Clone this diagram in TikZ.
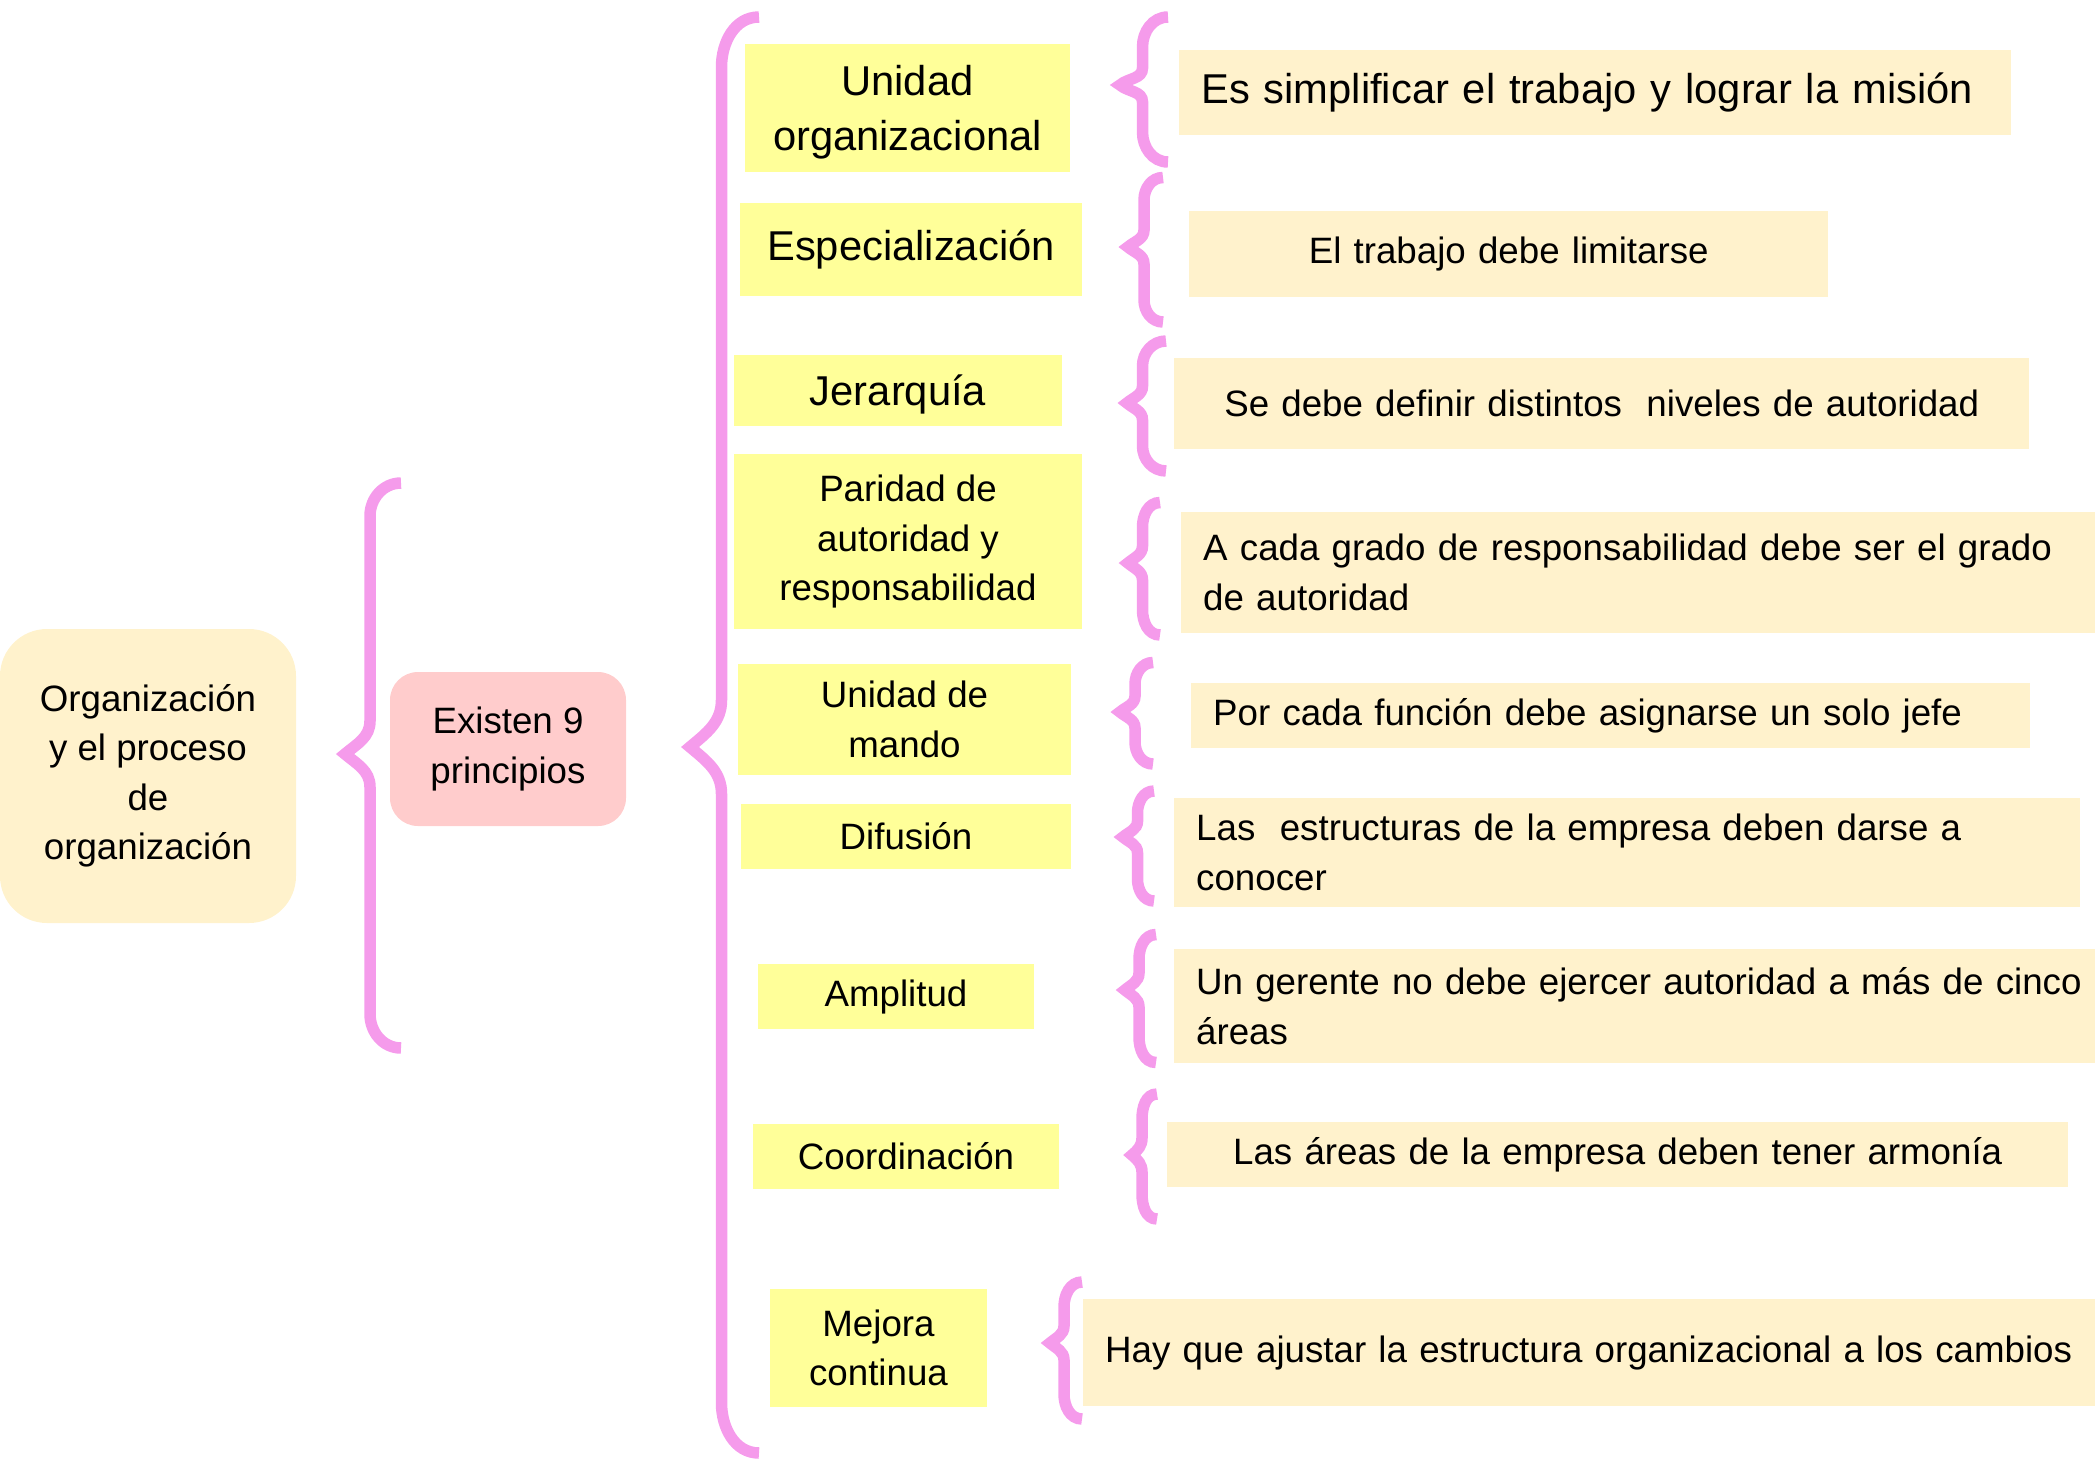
\documentclass[tikz,border=0pt]{standalone}
\usepackage{fontspec}
\setmainfont{Liberation Sans}

\definecolor{bracepink}{RGB}{245,155,235}
\definecolor{yellowfill}{RGB}{255,255,153}
\definecolor{creamfill}{RGB}{255,242,204}
\definecolor{rosefill}{RGB}{255,204,204}

\tikzset{
  curly/.style={draw=bracepink, line width=11.5pt},
  big/.style={font=\fontsize{41.7}{55.5}\selectfont},
  med/.style={font=\fontsize{36.7}{49.5}\selectfont},
  rootbox/.style={fill=creamfill, rounded corners=47pt, med, align=center, inner sep=0pt},
  countbox/.style={fill=rosefill, rounded corners=28pt, med, align=center, inner sep=0pt},
  principle/.style={fill=yellowfill, med, align=center, inner sep=0pt},
  note/.style={fill=creamfill, med, anchor=west, inner xsep=22pt, inner ysep=0pt},
}

\begin{document}
\begin{tikzpicture}[x=1pt, y=-1pt]
  \useasboundingbox (0,0) rectangle (2095,1460);

  \node [rootbox, minimum width=296pt, minimum height=294pt] (organizacion) at (148,776)
    {Organización\\y el proceso\\de\\organización};

  \node [countbox, minimum width=236pt, minimum height=154pt] (principios) at (508,749)
    {Existen 9\\principios};

  % left brace
  \draw [curly] (401,483) to [out=180,in=90] (370,516) -- (370,721)
    to [out=-90,in=40] (345,754) to [out=-40,in=90] (370,787) -- (370,1014)
    to [out=-90,in=180] (401,1048);

  % big brace
  \draw [curly] (759,17) to [out=180,in=90] (721.5,67) -- (721.5,700)
    to [out=-90,in=40] (690,747) to [out=-40,in=90] (721.5,794) -- (721.5,1403)
    to [out=-90,in=180] (759,1453);

  \node [principle, big, text depth=0pt, minimum width=325pt, minimum height=128pt] (unidad) at (907.5,108) {Unidad\\organizacional};
  \node [principle, big, minimum width=342pt, minimum height=93pt] (especializacion) at (911,249.5) {Especialización};
  \node [principle, big, text depth=0pt, minimum width=328pt, minimum height=71pt] (jerarquia) at (898,390.5) {Jerarquía};
  \node [principle, minimum width=348pt, minimum height=175pt] (paridad) at (908,541.5) {Paridad de\\autoridad y\\responsabilidad};
  \node [principle, minimum width=333pt, minimum height=111pt] (mando) at (904.5,719.5) {Unidad de\\mando};
  \node [principle, minimum width=330pt, minimum height=65pt] (difusion) at (906,836.5) {Difusión};
  \node [principle, minimum width=276pt, minimum height=65pt] (amplitud) at (896,996.5) {Amplitud};
  \node [principle, minimum width=306pt, minimum height=65pt] (coordinacion) at (906,1156.5) {Coordinación};
  \node [principle, minimum width=217pt, minimum height=118pt] (mejora) at (878.5,1348) {Mejora\\continua};

  % small braces
  \draw [curly] (1168,17) to [out=180,in=90] (1142.5,47) -- (1142.5,68)
    to [out=-90,in=40] (1120,85) to [out=-40,in=90] (1142.5,102) -- (1142.5,132)
    to [out=-90,in=180] (1168,162);
  \draw [curly] (1163,177.5) to [out=180,in=90] (1144,200) -- (1144,230)
    to [out=-90,in=40] (1128,247) to [out=-40,in=90] (1144,264) -- (1144,300)
    to [out=-90,in=180] (1163,322);
  \draw [curly] (1166,341) to [out=180,in=90] (1142.5,366) -- (1142.5,386)
    to [out=-90,in=40] (1127,403) to [out=-40,in=90] (1142.5,420) -- (1142.5,446)
    to [out=-90,in=180] (1166,471);
  \draw [curly] (1160,502.5) to [out=180,in=90] (1142.5,527) -- (1142.5,546)
    to [out=-90,in=40] (1128,563) to [out=-40,in=90] (1142.5,580) -- (1142.5,610)
    to [out=-90,in=180] (1160,635);
  \draw [curly] (1153,662.5) to [out=180,in=90] (1135,684) -- (1135,696)
    to [out=-90,in=40] (1120,712) to [out=-40,in=90] (1135,728) -- (1135,742)
    to [out=-90,in=180] (1153,764);
  \draw [curly] (1154,791) to [out=180,in=90] (1137.5,813) -- (1137.5,821)
    to [out=-90,in=40] (1123,837) to [out=-40,in=90] (1137.5,853) -- (1137.5,879)
    to [out=-90,in=180] (1154,901);
  \draw [curly] (1156,934.5) to [out=180,in=90] (1139,959) -- (1139,973)
    to [out=-90,in=40] (1125,990) to [out=-40,in=90] (1139,1007) -- (1139,1037)
    to [out=-90,in=180] (1156,1062.5);
  \draw [curly] (1157,1094) to [out=180,in=90] (1142,1119) -- (1142,1138)
    to [out=-90,in=40] (1132,1155) to [out=-40,in=90] (1142,1172) -- (1142,1194)
    to [out=-90,in=180] (1157,1219);
  \draw [curly] (1082,1282) to [out=180,in=90] (1064,1307) -- (1064,1326)
    to [out=-90,in=40] (1050,1343) to [out=-40,in=90] (1064,1360) -- (1064,1394)
    to [out=-90,in=180] (1082,1419);

  \node [note, big, align=left, text width=788pt, minimum height=85pt] (d-unidad) at (1179,92.5)
    {Es simplificar el trabajo y lograr la misión};
  \node [note, align=center, text width=595pt, minimum height=86pt] (d-especializacion) at (1189,254)
    {El trabajo debe limitarse};
  \node [note, align=center, text width=811pt, minimum height=91pt] (d-jerarquia) at (1174,403.5)
    {Se debe definir distintos\ \ niveles de autoridad};
  \node [note, align=left, text width=895pt, minimum height=121pt] (d-paridad) at (1181,572.5)
    {A cada grado de responsabilidad debe ser el grado\\de autoridad};
  \node [note, align=left, text width=795pt, minimum height=65pt] (d-mando) at (1191,715.5)
    {Por cada función debe asignarse un solo jefe};
  \node [note, align=left, text width=862pt, minimum height=109pt] (d-difusion) at (1174,852.5)
    {Las\ \ estructuras de la empresa deben darse a\\conocer};
  \node [note, align=left, text width=912pt, minimum height=114pt] (d-amplitud) at (1174,1006)
    {Un gerente no debe ejercer autoridad a más de cinco\\áreas};
  \node [note, align=center, text width=857pt, minimum height=65pt] (d-coordinacion) at (1167,1154.5)
    {Las áreas de la empresa deben tener armonía};
  \node [note, align=left, text width=1003pt, minimum height=107pt] (d-mejora) at (1083,1352.5)
    {Hay que ajustar la estructura organizacional a los cambios};
\end{tikzpicture}
\end{document}
